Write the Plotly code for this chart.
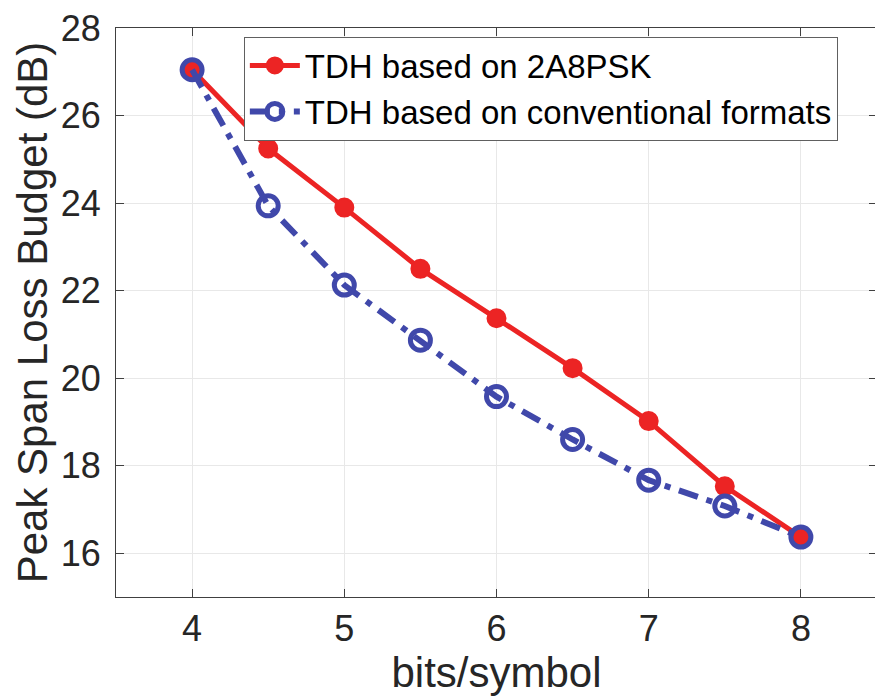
import plotly.graph_objects as go

bits = [4, 4.5, 5, 5.5, 6, 6.5, 7, 7.5, 8]
tdh_2a8psk = [27.05, 25.25, 23.9, 22.5, 21.37, 20.23, 19.02, 17.53, 16.37]
tdh_conv = [27.05, 23.94, 22.13, 20.87, 19.58, 18.6, 17.67, 17.08, 16.37]

x_ticks = [4, 5, 6, 7, 8]
y_ticks = [16, 18, 20, 22, 24, 26, 28]

RED = "#ec2424"
BLUE = "#4048aa"
FONT = "Liberation Sans"

fig = go.Figure()
fig.add_trace(go.Scatter(
    x=bits, y=tdh_2a8psk, mode="lines+markers",
    name="TDH based on 2A8PSK",
    line=dict(color=RED, width=5),
    marker=dict(symbol="circle", size=18, color=RED, line=dict(color=RED, width=2)),
))
fig.add_trace(go.Scatter(
    x=bits, y=tdh_conv, mode="lines+markers",
    name="TDH based on conventional formats",
    line=dict(color=BLUE, width=6, dash="20px,9px,6px,9px"),
    marker=dict(symbol="circle-open", size=20, color=BLUE, line=dict(color=BLUE, width=5)),
))

axis_common = dict(
    showline=True, linecolor="#404040", linewidth=1, mirror="ticks",
    ticks="inside", ticklen=8, tickcolor="#404040", tickwidth=1,
    showgrid=True, gridcolor="#e8e8e8", gridwidth=1,
    zeroline=False,
    tickfont=dict(family=FONT, size=36, color="#262626"),
    ticklabeloverflow="allow",
)

fig.update_xaxes(
    range=[3.5, 8.5], tickvals=x_ticks, ticktext=[str(v) for v in x_ticks],
    title=dict(text="bits/symbol", font=dict(family=FONT, size=42, color="#262626"), standoff=0),
    ticklabelstandoff=0, automargin=False,
    **axis_common,
)
fig.update_yaxes(
    range=[15, 28.005], tickvals=y_ticks, ticktext=[str(v) for v in y_ticks],
    title=dict(text="Peak Span Loss Budget (dB)", font=dict(family=FONT, size=42, color="#262626"), standoff=0),
    ticklabelstandoff=7, automargin=False,
    **axis_common,
)

# page body has an 8px margin, so the figure is offset by 8px in x and y
fig.update_layout(
    width=875, height=689,
    margin=dict(l=108, r=6, t=20, b=100),
    paper_bgcolor="white", plot_bgcolor="white",
    font=dict(family=FONT, color="#000000"),
    legend=dict(
        x=0.168, y=0.985, xanchor="left", yanchor="top",
        bgcolor="white", bordercolor="#606060", borderwidth=1,
        font=dict(family=FONT, size=33, color="#000000"),
        itemwidth=50, tracegroupgap=0,
    ),
    showlegend=True,
)

fig.write_html("out.html")
